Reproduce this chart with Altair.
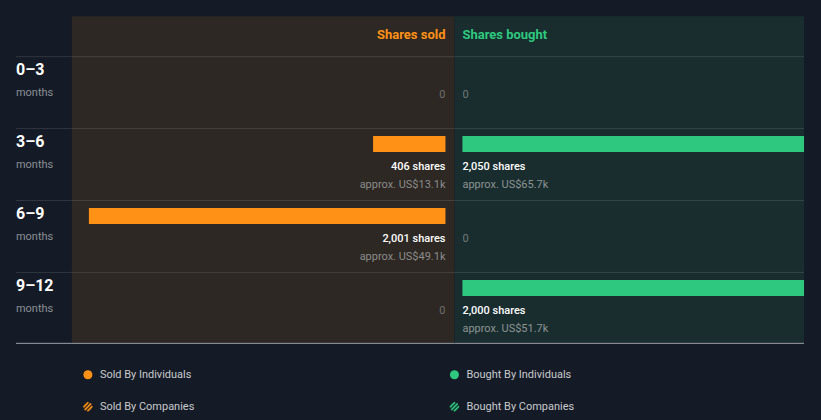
import altair as alt
import pandas as pd

# ---- data ----
periods = ["0–3", "3–6", "6–9", "9–12"]
sold_shares = [0, 406, 2001, 0]
sold_value = ["", "approx. US$13.1k", "approx. US$49.1k", ""]
bought_shares = [0, 2050, 0, 2000]
bought_value = ["", "approx. US$65.7k", "", "approx. US$51.7k"]
legend_sold = ["Sold By Individuals", "Sold By Companies"]
legend_bought = ["Bought By Individuals", "Bought By Companies"]

# ---- styles ----
BG = "#151B26"
SOLD_BG = "#2D2823"
BOUGHT_BG = "#192D2F"
ORANGE = "#FF9216"
GREEN = "#2EC97F"
FONT = "Roboto"
H = 420
WL, WS, WB = 72, 383, 350
SHARE_MAX = 2001
HATCH = "M -0.707 0.707 L 0.707 -0.707 M -0.096 0.996 L 0.996 -0.096 M -0.996 0.096 L 0.096 -0.996"

df = pd.DataFrame({
    "period": periods,
    "sold": sold_shares,
    "sold_value": sold_value,
    "bought": bought_shares,
    "bought_value": bought_value,
})
df["sold_label"] = [f"{v:,} shares" if v else "0" for v in sold_shares]
df["bought_label"] = [f"{v:,} shares" if v else "0" for v in bought_shares]

one = pd.DataFrame({"a": [0]})

yscale = alt.Scale(type="band", domain=periods, range=[56, 344], paddingInner=0, paddingOuter=0)
Y = alt.Y("period:N", scale=yscale, axis=None)

base = alt.Chart(df)


def row_rules(width, x0=0):
    return base.mark_rule(color="#FFFFFF", opacity=0.12, strokeWidth=1, yOffset=-35.5).encode(
        y=Y, x=alt.value(x0), x2=alt.value(width)
    )


def bottom_rule(width, x0=0):
    return alt.Chart(one).mark_rule(color="#9EA3AA", strokeWidth=1).encode(
        y=alt.value(343.5), x=alt.value(x0), x2=alt.value(width)
    )


def legend_icons(x, color):
    return [
        alt.Chart(one).mark_point(shape="circle", filled=True, size=81, color=color, opacity=1).encode(
            x=alt.value(x), y=alt.value(375)),
        alt.Chart(one).mark_point(shape="circle", filled=True, size=81, color=color, opacity=0.18).encode(
            x=alt.value(x), y=alt.value(407)),
        alt.Chart(one).mark_point(shape=HATCH, filled=False, size=81, color=color,
                                  strokeWidth=1.5, opacity=1).encode(
            x=alt.value(x), y=alt.value(407)),
    ]


# ---- left label panel ----
left = alt.layer(
    base.mark_text(align="left", baseline="middle", font=FONT, fontSize=16, fontWeight="bold",
                   color="#FFFFFF", yOffset=-22).encode(y=Y, x=alt.value(16), text="period:N"),
    base.mark_text(align="left", baseline="middle", font=FONT, fontSize=11,
                   color="#8A8F98", yOffset=1).encode(y=Y, x=alt.value(16), text=alt.value("months")),
    row_rules(WL, 16),
    bottom_rule(WL, 16),
).properties(width=WL, height=H)

# ---- sold panel ----
xs = alt.X("sold:Q", scale=alt.Scale(domain=[0, SHARE_MAX], range=[374, 17]), axis=None)
sold = alt.layer(
    alt.Chart(one).mark_rect(color=SOLD_BG).encode(
        x=alt.value(0), x2=alt.value(WS), y=alt.value(16), y2=alt.value(343)),
    alt.Chart(one).mark_text(align="right", baseline="middle", font=FONT, fontSize=13,
                             fontWeight="bold", color=ORANGE).encode(
        x=alt.value(374), y=alt.value(35), text=alt.value("Shares sold")),
    row_rules(WS),
    bottom_rule(WS),
    base.transform_filter("datum.sold > 0").mark_bar(size=16, yOffset=-20, color=ORANGE).encode(
        y=Y, x=xs),
    base.transform_filter("datum.sold > 0").mark_text(
        align="right", baseline="middle", font=FONT, fontSize=11, fontWeight=500,
        color="#FFFFFF", yOffset=3).encode(y=Y, x=alt.value(374), text="sold_label:N"),
    base.transform_filter("datum.sold == 0").mark_text(
        align="right", baseline="middle", font=FONT, fontSize=11,
        color="#6E6E6E", yOffset=3).encode(y=Y, x=alt.value(374), text="sold_label:N"),
    base.mark_text(align="right", baseline="middle", font=FONT, fontSize=11,
                   color="#8C8C8C", yOffset=21).encode(y=Y, x=alt.value(374), text="sold_value:N"),
    *legend_icons(16, ORANGE),
    alt.Chart(pd.DataFrame({"t": legend_sold, "yy": [375, 407]})).mark_text(
        align="left", baseline="middle", font=FONT, fontSize=11, color="#C8CACE").encode(
        x=alt.value(28), y=alt.Y("yy:Q", scale=None), text="t:N"),
).properties(width=WS, height=H)

# ---- bought panel ----
xb = alt.X("bought:Q", scale=alt.Scale(domain=[0, SHARE_MAX], range=[8, 365]), axis=None)
bought = alt.layer(
    alt.Chart(one).mark_rect(color=BOUGHT_BG).encode(
        x=alt.value(0), x2=alt.value(WB), y=alt.value(16), y2=alt.value(343)),
    alt.Chart(one).mark_text(align="left", baseline="middle", font=FONT, fontSize=13,
                             fontWeight="bold", color=GREEN).encode(
        x=alt.value(8), y=alt.value(35), text=alt.value("Shares bought")),
    row_rules(WB),
    bottom_rule(WB),
    base.transform_filter("datum.bought > 0").mark_bar(size=16, yOffset=-20, color=GREEN, clip=True).encode(
        y=Y, x=xb),
    base.transform_filter("datum.bought > 0").mark_text(
        align="left", baseline="middle", font=FONT, fontSize=11, fontWeight=500,
        color="#FFFFFF", yOffset=3).encode(y=Y, x=alt.value(8), text="bought_label:N"),
    base.transform_filter("datum.bought == 0").mark_text(
        align="left", baseline="middle", font=FONT, fontSize=11,
        color="#6E7A7A", yOffset=3).encode(y=Y, x=alt.value(8), text="bought_label:N"),
    base.mark_text(align="left", baseline="middle", font=FONT, fontSize=11,
                   color="#8C9494", yOffset=21).encode(y=Y, x=alt.value(8), text="bought_value:N"),
    *legend_icons(0, GREEN),
    alt.Chart(pd.DataFrame({"t": legend_bought, "yy": [375, 407]})).mark_text(
        align="left", baseline="middle", font=FONT, fontSize=11, color="#C8CACE").encode(
        x=alt.value(12), y=alt.Y("yy:Q", scale=None), text="t:N"),
).properties(width=WB, height=H)

chart = alt.hconcat(left, sold, bought, spacing=0, bounds="flush").resolve_scale(
    x="independent", y="independent"
).properties(
    background=BG,
    padding={"left": 0, "top": 0, "right": 16, "bottom": 0},
).configure_view(stroke=None).configure_concat(spacing=0)

chart.save("out.html", embed_options={"renderer": "svg", "actions": False})
